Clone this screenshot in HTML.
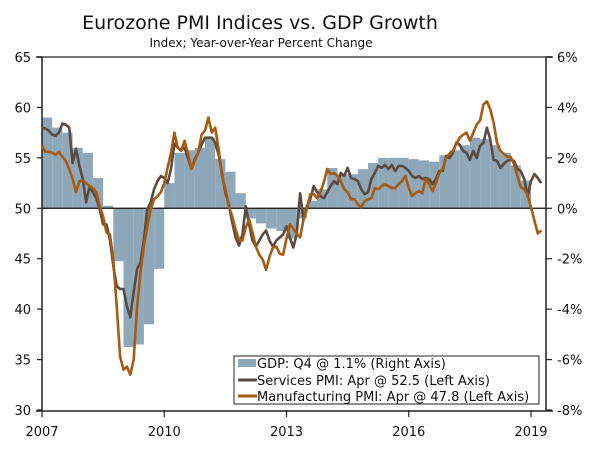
<!DOCTYPE html>
<html><head><meta charset="utf-8"><style>
html,body{margin:0;padding:0;background:#fff;}
svg text{font-family:"DejaVu Sans","Liberation Sans",sans-serif;fill:#111;}
</style></head><body>
<svg id="chart" width="600" height="448" viewBox="0 0 600 448" xmlns="http://www.w3.org/2000/svg">
<text x="260" y="29" font-size="19" text-anchor="middle">Eurozone PMI Indices vs. GDP Growth</text>
<text x="261" y="47" font-size="12" text-anchor="middle">Index; Year-over-Year Percent Change</text>
<g id="bars"></g>
<g id="axes"></g>
<g id="lines"></g>
<g>
<rect x="234" y="356" width="305" height="48" fill="#fff" stroke="#222" stroke-width="1"/>
<rect x="238" y="359" width="18" height="8" fill="#8ea7b9"/>
<text x="257" y="368" font-size="13">GDP: Q4 @ 1.1% (Right Axis)</text>
<line x1="238" y1="380" x2="257" y2="380" stroke="#5a4a40" stroke-width="3"/>
<text x="257" y="385" font-size="13">Services PMI: Apr @ 52.5 (Left Axis)</text>
<line x1="238" y1="396" x2="257" y2="396" stroke="#a85a10" stroke-width="3"/>
<text x="257" y="401" font-size="13">Manufacturing PMI: Apr @ 47.8 (Left Axis)</text>
</g>
</svg>
<script>
const gdp = [3.6,3.2,3.0,2.4,2.2,1.2,0.1,-2.1,-5.5,-5.4,-4.6,-2.4,1.0,2.2,2.3,2.4,2.8,1.95,1.45,0.6,-0.4,-0.6,-0.8,-0.9,
 -1.2,-0.4,0.3,0.75,1.6,1.35,1.35,1.55,1.8,2.0,2.0,2.0,1.95,1.9,1.85,2.1,2.3,2.5,2.8,2.75,2.5,2.2,1.7,1.1];
const services = [58.0,57.9,57.7,57.3,57.2,57.5,58.4,58.3,58.0,54.5,55.9,54.2,52.9,50.6,52.1,51.6,51.0,49.9,48.4,48.4,46.9,44.3,42.3,42.0,
 42.0,40.3,39.2,41.7,44.0,44.6,46.9,49.9,50.6,51.9,52.7,53.2,53.0,52.5,53.9,56.4,56.0,55.8,56.0,55.0,53.9,54.9,55.5,56.3,
 57.0,57.0,57.0,56.5,55.3,53.5,51.5,50.4,48.6,47.1,46.3,47.4,50.2,48.4,46.8,46.2,46.8,47.4,47.8,46.8,46.2,46.8,47.1,47.4,
 48.2,47.1,46.1,47.4,51.5,48.9,50.2,50.9,52.2,51.6,51.2,51.0,51.6,52.2,52.7,52.4,53.5,53.2,54.0,53.0,52.9,52.7,51.9,51.4,
 51.6,52.9,53.5,54.2,54.0,54.3,53.9,54.3,53.7,54.2,54.2,54.0,53.7,53.2,53.0,53.2,52.9,53.0,52.9,52.4,52.9,53.7,53.7,55.2,
 55.0,55.5,56.5,56.3,55.7,55.5,54.8,55.7,55.0,56.2,56.5,58.0,56.8,54.8,54.7,54.0,54.4,54.7,54.8,54.7,53.9,53.7,52.9,51.2,
 52.7,53.4,53.0,52.5];
const manufacturing = [56.2,55.6,55.6,55.5,55.3,55.6,55.1,54.7,53.9,52.9,51.6,52.7,52.7,52.5,52.2,52.0,51.6,50.2,49.2,47.6,47.4,44.9,40.3,35.3,
 34.0,34.3,33.5,35.0,40.3,43.6,46.3,48.2,49.9,50.9,51.2,51.6,52.5,54.0,55.5,57.5,56.0,55.7,56.7,55.4,53.9,54.7,55.5,57.3,
 57.7,59.0,57.5,58.0,55.9,53.2,51.9,50.2,49.2,47.9,46.9,46.8,48.1,48.9,47.6,46.2,45.4,44.9,43.9,45.2,46.1,46.2,45.5,45.4,
 47.0,48.4,48.0,47.5,47.1,48.9,49.9,51.4,51.4,51.0,51.6,52.6,53.9,53.4,53.5,53.2,52.7,51.9,51.6,50.9,50.9,50.4,50.1,50.7,
 50.9,51.0,52.0,51.9,52.2,52.4,52.2,52.0,52.0,52.4,52.7,53.2,52.0,51.2,51.5,51.7,51.5,52.9,52.4,51.7,52.5,53.5,53.9,55.0,
 55.4,55.7,56.4,57.0,57.3,57.5,56.7,57.5,58.3,58.7,60.3,60.6,59.8,58.5,56.5,55.7,55.4,55.1,55.1,54.4,53.2,52.1,51.9,51.3,
 50.1,48.8,47.5,47.8];
const leftTicks = [30,35,40,45,50,55,60,65];
const rightTicks = [-8,-6,-4,-2,0,2,4,6];
const yearTicks = [2007,2010,2013,2016,2019];

const NS = "http://www.w3.org/2000/svg";
const X0 = 42, PXY = 40.75, TOP = 57, BOT = 410;
const xYear = t => X0 + (t - 2007) * PXY;
const yLeft = v => BOT - (v - 30) / 35 * (BOT - TOP);
const yRight = v => BOT - (v + 8) / 14 * (BOT - TOP);
function mk(tag, attrs, parent){const e=document.createElementNS(NS,tag);for(const k in attrs)e.setAttribute(k,attrs[k]);parent.appendChild(e);return e;}

const bars = document.getElementById('bars');
gdp.forEach((v,i)=>{
  const x1 = xYear(2007 + i/4), x2 = xYear(2007 + (i+1)/4);
  const y0 = yRight(0), y = yRight(v);
  const r = mk('rect',{x:x1,y:Math.min(y0,y),width:x2-x1,height:Math.abs(y-y0),fill:'#8ea7b9'},bars);
  
  
});

const axes = document.getElementById('axes');
let e;
e = mk('line',{x1:36,y1:TOP,x2:553,y2:TOP,stroke:'#777','stroke-width':2},axes);


e = mk('line',{x1:X0,y1:TOP,x2:X0,y2:BOT,stroke:'#222','stroke-width':1.5},axes);


e = mk('line',{x1:546,y1:TOP,x2:546,y2:BOT,stroke:'#222','stroke-width':1.5},axes);


e = mk('line',{x1:36,y1:BOT+1,x2:553,y2:BOT+1,stroke:'#222','stroke-width':1.5},axes);


e = mk('line',{x1:X0,y1:yRight(0),x2:546,y2:yRight(0),stroke:'#111','stroke-width':1.2},axes);



leftTicks.forEach(v=>{
  const y = yLeft(v);
  const t = mk('line',{x1:37,y1:y,x2:X0,y2:y,stroke:'#222','stroke-width':1.2},axes);
  
  
  const l = mk('text',{x:31,y:y+5,'font-size':13,'text-anchor':'end'},axes);
  l.textContent = v;
  
  
});
rightTicks.forEach(v=>{
  const y = yRight(v);
  const t = mk('line',{x1:546,y1:y,x2:552,y2:y,stroke:'#222','stroke-width':1.2},axes);
  
  
  const l = mk('text',{x:557,y:y+5,'font-size':13},axes);
  l.textContent = v + '%';
  
  
});
yearTicks.forEach(v=>{
  const x = xYear(v);
  const t = mk('line',{x1:x,y1:BOT,x2:x,y2:BOT+7,stroke:'#222','stroke-width':1.2},axes);
  
  
  const l = mk('text',{x:x,y:436,'font-size':13,'text-anchor':'middle'},axes);
  l.textContent = v;
  
  
});

const lines = document.getElementById('lines');
function path(vals){return vals.map((v,i)=>(i?'L':'M')+xYear(2007+i/12).toFixed(1)+','+yLeft(v).toFixed(1)).join(' ');}
const ps = mk('path',{d:path(services),fill:'none',stroke:'#5a4a40','stroke-width':2.6,'stroke-linejoin':'round'},lines);


const pm = mk('path',{d:path(manufacturing),fill:'none',stroke:'#a85a10','stroke-width':2.6,'stroke-linejoin':'round'},lines);


</script>
</body></html>
